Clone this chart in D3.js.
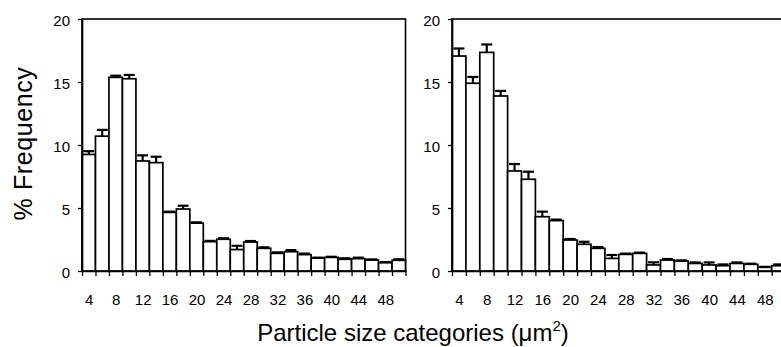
<!DOCTYPE html>
<html>
<head>
<meta charset="utf-8">
<script src="https://cdn.jsdelivr.net/npm/d3@7"></script>
<style>
  body { margin: 0; background: #fff; }
  svg { display: block; }
  text { font-family: Arial, "Liberation Sans", sans-serif; fill: #000; }
</style>
</head>
<body>
<svg id="chart" width="781" height="347"></svg>
<script>
// particle size categories (um^2), one bar per category
const categories = [4, 6, 8, 10, 12, 14, 16, 18, 20, 22, 24, 26, 28, 30, 32, 34, 36, 38, 40, 42, 44, 46, 48, 50];
const tickLabels = [4, 8, 12, 16, 20, 24, 28, 32, 36, 40, 44, 48];
const yTicks = [0, 5, 10, 15, 20];

// left panel: mean % frequency and upper error
const leftMeans  = [9.25, 10.7, 15.37, 15.26, 8.73, 8.6, 4.65, 4.92, 3.8, 2.33, 2.52, 1.7, 2.3, 1.8, 1.4, 1.53, 1.3, 1.02, 1.08, 0.93, 0.98, 0.87, 0.66, 0.85];
const leftErrors = [0.26, 0.5, 0.13, 0.3, 0.45, 0.47, 0.06, 0.26, 0.06, 0.06, 0.08, 0.3, 0.08, 0.08, 0.08, 0.13, 0.08, 0.04, 0.05, 0.08, 0.08, 0.05, 0.05, 0.08];

// right panel
const rightMeans  = [17.06, 14.9, 17.35, 13.89, 7.94, 7.28, 4.31, 4.0, 2.46, 2.12, 1.8, 1.0, 1.32, 1.4, 0.48, 0.87, 0.79, 0.6, 0.48, 0.42, 0.6, 0.53, 0.29, 0.42];
const rightErrors = [0.6, 0.5, 0.63, 0.4, 0.55, 0.6, 0.4, 0.08, 0.08, 0.2, 0.1, 0.27, 0.06, 0.06, 0.21, 0.08, 0.05, 0.08, 0.2, 0.1, 0.08, 0.05, 0.04, 0.1];

const svg = d3.select("#chart");
const plotTop = 19, plotBottom = 271;

const y = d3.scaleLinear().domain([0, 20]).range([plotBottom, plotTop]);

function drawPanel(x0, x1, means, errors) {
  const g = svg.append("g");
  const first = categories[0] - 1, last = categories[categories.length - 1] + 1;
  const x = d3.scaleLinear().domain([first, last]).range([x0, x1]);
  const bounds = categories.map(c => c - 1).concat([last]);

  // frame
  g.append("rect")
    .attr("x", x0).attr("y", plotTop)
    .attr("width", x1 - x0).attr("height", plotBottom - plotTop)
    .attr("fill", "none").attr("stroke", "#000").attr("stroke-width", 1.6);

  // bars
  g.selectAll("rect.bar")
    .data(means)
    .enter()
    .append("rect")
    .attr("class", "bar")
    .attr("x", (d, i) => x(categories[i] - 1))
    .attr("width", (d, i) => x(categories[i] + 1) - x(categories[i] - 1))
    .attr("y", d => y(d))
    .attr("height", d => plotBottom - y(d))
    .attr("fill", "#fff")
    .attr("stroke", "#000")
    .attr("stroke-width", 1.7);

  // error bars (upper only)
  const capHalf = 5.5;
  const err = g.append("g")
    .attr("stroke", "#000")
    .attr("stroke-width", 2.2);
  err.selectAll("line.stem")
    .data(means)
    .enter()
    .append("line")
    .attr("x1", (d, i) => x(categories[i]))
    .attr("x2", (d, i) => x(categories[i]))
    .attr("y1", d => y(d))
    .attr("y2", (d, i) => y(d + errors[i]));
  err.selectAll("line.cap")
    .data(means)
    .enter()
    .append("line")
    .attr("x1", (d, i) => x(categories[i]) - capHalf)
    .attr("x2", (d, i) => x(categories[i]) + capHalf)
    .attr("y1", (d, i) => y(d + errors[i]))
    .attr("y2", (d, i) => y(d + errors[i]));

  // x axis: ticks at bar boundaries
  const xAxis = g.append("g")
    .attr("transform", "translate(0," + plotBottom + ")")
    .call(d3.axisBottom(x).tickValues(bounds).tickSize(5).tickFormat("").tickSizeOuter(0));
  xAxis.select(".domain").attr("stroke-width", 1.7);
  xAxis.selectAll(".tick line").attr("stroke-width", 1.3);

  // x labels under every second bar
  const xLab = g.append("g")
    .attr("transform", "translate(0," + plotBottom + ")")
    .call(d3.axisBottom(x).tickValues(tickLabels).tickSize(0).tickPadding(23));
  xLab.select(".domain").remove();
  xLab.selectAll("text")
    .style("font-size", "15px")
    .attr("font-family", null);

  // y axis
  const yAxis = g.append("g")
    .attr("transform", "translate(" + x0 + ",0)")
    .call(d3.axisLeft(y).tickValues(yTicks).tickSize(4).tickSizeOuter(0).tickPadding(8));
  yAxis.select(".domain").attr("stroke-width", 1.7);
  yAxis.selectAll(".tick line").attr("stroke-width", 1.3);
  yAxis.selectAll("text")
    .style("font-size", "15px")
    .attr("dy", "0.45em")
    .attr("font-family", null);
}

drawPanel(82, 405.5, leftMeans, leftErrors);
drawPanel(452, 785.6, rightMeans, rightErrors);

// axis titles
svg.append("text")
  .attr("transform", "translate(32,143.5) rotate(-90)")
  .attr("text-anchor", "middle")
  .style("font-size", "25px")
  .style("letter-spacing", "0.6px")
  .text("% Frequency");

const title = svg.append("text")
  .attr("x", 413)
  .attr("y", 341)
  .attr("text-anchor", "middle")
  .style("font-size", "24px");
title.append("tspan").text("Particle size categories (\u03bcm");
title.append("tspan").attr("dy", -10).style("font-size", "15px").text("2");
title.append("tspan").attr("dy", 10).text(")");
</script>
</body>
</html>
